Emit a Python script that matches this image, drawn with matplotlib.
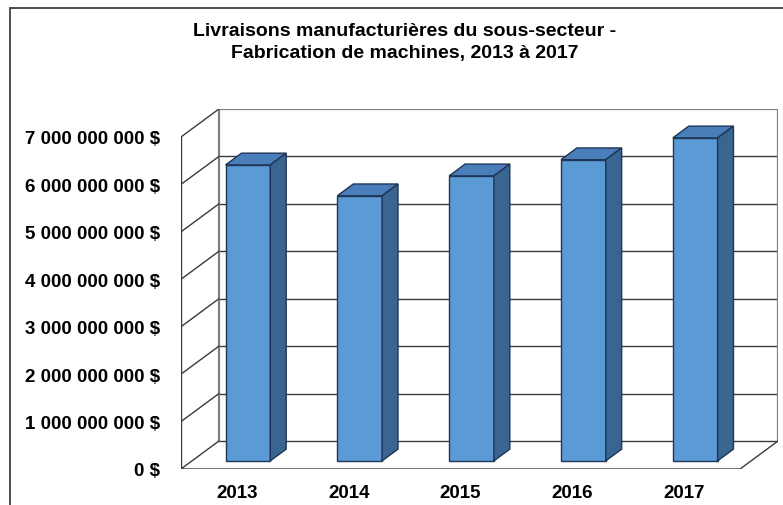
import numpy as np
import matplotlib
matplotlib.use("Agg")
import matplotlib.pyplot as plt
from matplotlib.patches import Polygon, Rectangle

plt.rcParams['font.family'] = ['Liberation Sans', 'DejaVu Sans']

years = ["2013", "2014", "2015", "2016", "2017"]
deliveries = [6.24e9, 5.59e9, 6.01e9, 6.35e9, 6.81e9]
y_ticks = [0, 1e9, 2e9, 3e9, 4e9, 5e9, 6e9, 7e9]
title_lines = ["Livraisons manufacturières du sous-secteur -",
               "Fabrication de machines, 2013 à 2017"]

W, H = 783, 506
front_col = "#5b9bd5"
top_col = "#4a7ebb"
side_col = "#3b6591"
edge_col = "#1f3556"
grid_col = "#3a3a3a"
wall_col = "#808080"

# depth of the fake 3d box, in data units
DX = 0.339
DY = 0.59e9
# bar sits between these fractions of the depth
d0, d1 = 0.29, 0.71

fig = plt.figure(figsize=(W / 100, H / 100), dpi=100)
fig.patch.set_facecolor("white")

# outer border (cut on right and bottom like the screenshot)
fig.add_artist(Rectangle((10 / W, -0.1), 2, (H - 9) / H + 0.1, transform=fig.transFigure,
                         fill=False, edgecolor="#404040", linewidth=1.3))

ax = fig.add_axes([181 / W, (H - 470) / H, (778 - 181) / W, (470 - 110) / H])
n = len(years)
ymax = y_ticks[-1]
ax.set_xlim(0, n + DX)
ax.set_ylim(0, ymax + DY)
for s in ax.spines.values():
    s.set_visible(False)
ax.patch.set_alpha(0)

# back wall gridlines
for v in y_ticks[1:-1]:
    ax.plot([DX, n + DX], [v + DY, v + DY], color=grid_col, lw=1, zorder=1)
ax.plot([DX, n + DX], [DY, DY], color=grid_col, lw=1, zorder=1)
# wall frame
ax.plot([DX, DX, n + DX, n + DX], [DY, ymax + DY, ymax + DY, DY], color=wall_col, lw=1.6, zorder=1)
# left wall: front edge and diagonals
ax.plot([0, 0], [0, ymax], color=grid_col, lw=1, zorder=1)
for v in y_ticks:
    ax.plot([0, DX], [v, v + DY], color=grid_col, lw=1, zorder=1)
# floor
ax.plot([0, n, n + DX], [0, 0, DY], color=grid_col, lw=1, zorder=1)

# bars
centers = np.arange(n) + 0.5
bw = 0.4
fx, fy = d0 * DX, d0 * DY
bdx, bdy = (d1 - d0) * DX, (d1 - d0) * DY
ax.bar(centers + fx, deliveries, width=bw, bottom=fy, color=front_col,
       edgecolor=edge_col, linewidth=1, zorder=3)
for c, v in zip(centers, deliveries):
    xl = c + fx - bw / 2
    xr = c + fx + bw / 2
    yt = v + fy
    top = Polygon([(xl, yt), (xr, yt), (xr + bdx, yt + bdy), (xl + bdx, yt + bdy)],
                  closed=True, facecolor=top_col, edgecolor=edge_col, lw=1, zorder=3)
    side = Polygon([(xr, fy), (xr + bdx, fy + bdy), (xr + bdx, yt + bdy), (xr, yt)],
                   closed=True, facecolor=side_col, edgecolor=edge_col, lw=1, zorder=3)
    ax.add_patch(top)
    ax.add_patch(side)

ax.set_yticks(y_ticks)
ax.set_yticklabels([f"{int(v):,}".replace(",", " ") + " $" for v in y_ticks],
                   fontsize=13.5, fontweight="bold")
ax.set_xticks(centers)
ax.set_xticklabels(years, fontsize=13.5, fontweight="bold")
ax.tick_params(axis="y", length=0, pad=15)
ax.tick_params(axis="x", length=0, pad=11)

fig.text(404.5 / W, 1 - 36 / H, title_lines[0], ha="center", va="baseline",
         fontsize=14, fontweight="bold")
fig.text(404.5 / W, 1 - 58 / H, title_lines[1], ha="center", va="baseline",
         fontsize=14, fontweight="bold")

fig.savefig("out.png", dpi=100)
